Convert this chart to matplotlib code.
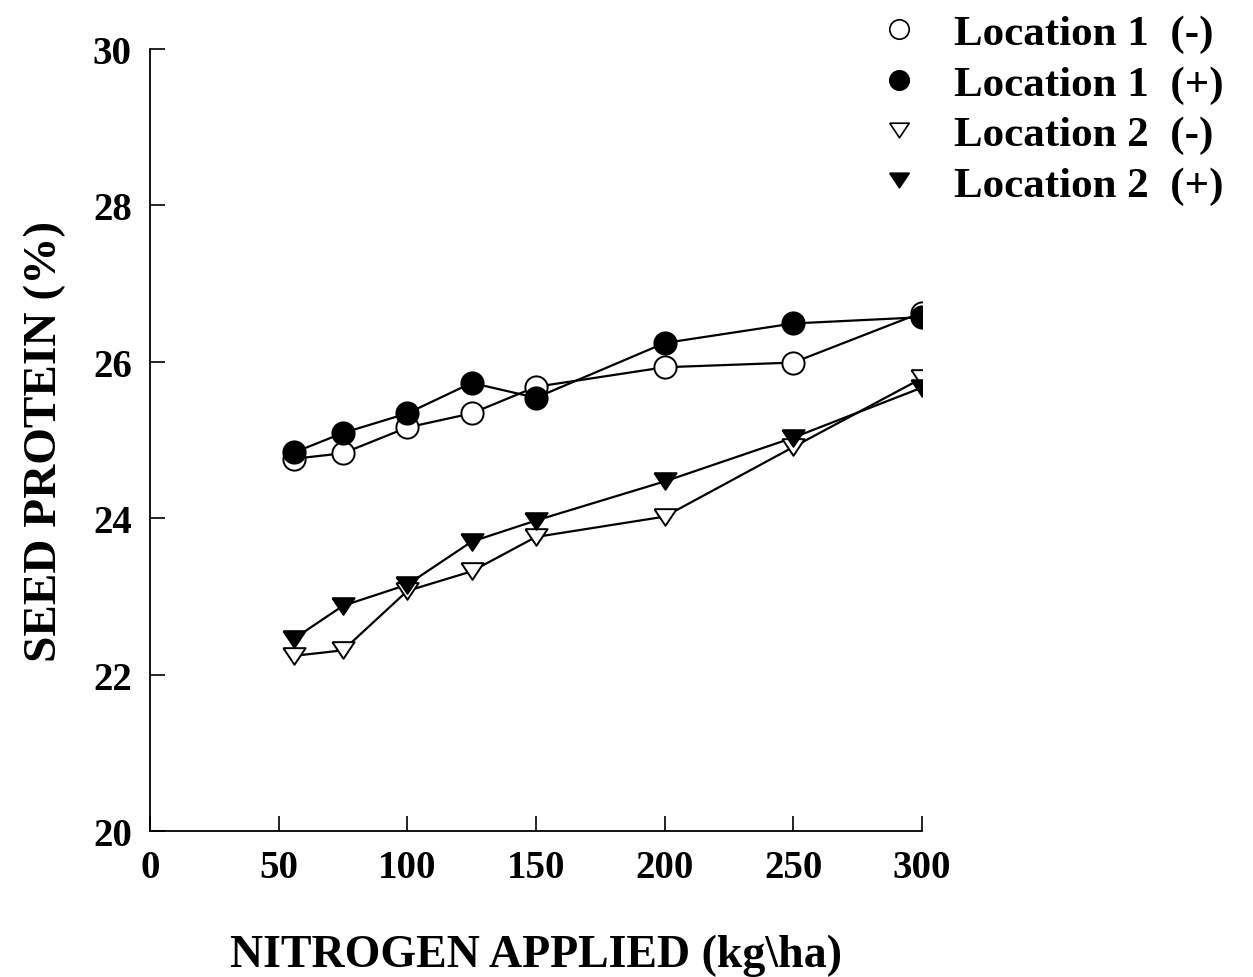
import numpy as np
import matplotlib.pyplot as plt
from matplotlib.lines import Line2D

plt.rcParams['font.family'] = ['Liberation Serif', 'DejaVu Serif']
plt.rcParams['font.weight'] = 'bold'

# nitrogen applied (kg/ha)
nitrogen = [56, 75, 100, 125, 150, 200, 250, 300]

# seed protein (%)
loc1_minus = [24.76, 24.83, 25.16, 25.34, 25.68, 25.93, 25.99, 26.63]
loc1_plus = [24.84, 25.09, 25.34, 25.73, 25.54, 26.24, 26.49, 26.57]
loc2_minus = [22.24, 22.31, 23.07, 23.32, 23.76, 24.02, 24.91, 25.79]
loc2_plus = [22.46, 22.88, 23.15, 23.70, 23.97, 24.47, 25.03, 25.67]

labels = ['Location 1  (-)', 'Location 1  (+)', 'Location 2  (-)', 'Location 2  (+)']

# slightly flattened downward triangle
tri = [(-1, 0.75), (1, 0.75), (0, -0.75), (-1, 0.75)]

fig = plt.figure(figsize=(12.53, 9.78), dpi=100)
ax = fig.add_axes([0.1197, 0.1493, 0.6161, 0.7996])

series = [
    (loc1_minus, 'o', 'white'),
    (loc1_plus, 'o', 'black'),
    (loc2_minus, tri, 'white'),
    (loc2_plus, tri, 'black'),
]

handles = []
for (vals, mk, fc), lab in zip(series, labels):
    ax.plot(nitrogen, vals, color='black', lw=1.6, zorder=2)
    ax.plot(nitrogen, vals, linestyle='none', marker=mk, markersize=16,
            markerfacecolor=fc, markeredgecolor='black', markeredgewidth=1.4,
            zorder=3)
    handles.append(Line2D([], [], linestyle='none', marker=mk, markersize=14,
                          markerfacecolor=fc, markeredgecolor='black',
                          markeredgewidth=1.2, label=lab))

ax.set_xlim(0, 300)
ax.set_ylim(20, 30)
ax.set_xticks([0, 50, 100, 150, 200, 250, 300])
ax.set_yticks([20, 22, 24, 26, 28, 30])
ax.spines['top'].set_visible(False)
ax.spines['right'].set_visible(False)
ax.spines['left'].set_linewidth(1.3)
ax.spines['bottom'].set_linewidth(1.3)
ax.tick_params(direction='in', length=11, width=1.2, labelsize=28, pad=13)

ax.set_xlabel('NITROGEN APPLIED (kg\\ha)', fontsize=33, fontweight='bold', labelpad=34)
ax.set_ylabel('SEED PROTEIN (%)', fontsize=34, fontweight='bold', labelpad=19)

fig.legend(handles=handles, loc='upper left', bbox_to_anchor=(0.6897, 1.002),
           frameon=False, fontsize=31, handletextpad=0.86, labelspacing=0.26,
           handlelength=0.82, borderaxespad=0)

fig.savefig('out.png', dpi=100)
